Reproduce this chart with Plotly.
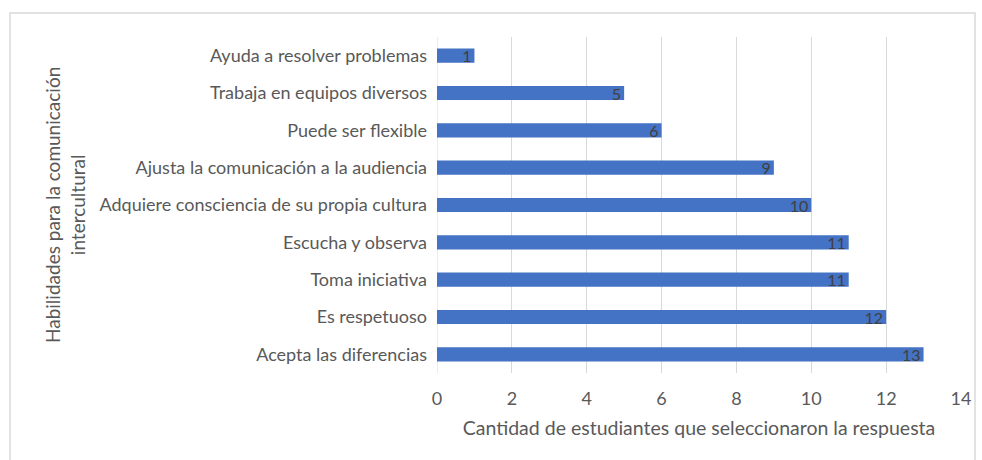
import plotly.graph_objects as go

# Skills and how many students picked each one
habilidades = [
    "Acepta las diferencias",
    "Es respetuoso",
    "Toma iniciativa",
    "Escucha y observa",
    "Adquiere consciencia de su propia cultura",
    "Ajusta la comunicación a la audiencia",
    "Puede ser flexible",
    "Trabaja en equipos diversos",
    "Ayuda a resolver problemas",
]
estudiantes = [13, 12, 11, 11, 10, 9, 6, 5, 1]
x_ticks = [0, 2, 4, 6, 8, 10, 12, 14]

W, H = 982, 460
L, R, T, B = 437, 21, 37, 87
pw, ph = W - L - R, H - T - B


def px_x(px):
    return (px - L) / pw


def px_y(py):
    return (H - B - py) / ph


font_family = "Lato, Open Sans, sans-serif"
gray = "#595959"

fig = go.Figure(
    go.Bar(
        x=estudiantes,
        y=habilidades,
        orientation="h",
        marker=dict(color="#4472C4", line=dict(width=0)),
        text=estudiantes,
        textposition="inside",
        insidetextanchor="end",
        textangle=0,
        constraintext="none",
        textfont=dict(color="#404040", size=16, family=font_family),
        cliponaxis=False,
    )
)

fig.update_layout(
    width=W,
    height=H,
    margin=dict(l=L, r=R, t=T, b=B),
    paper_bgcolor="white",
    plot_bgcolor="white",
    bargap=0.62,
    showlegend=False,
    uniformtext=dict(mode=False),
    font=dict(family=font_family, color=gray, size=18),
    xaxis=dict(
        range=[0, 14],
        tickvals=x_ticks,
        showgrid=True,
        gridcolor="#d9d9d9",
        gridwidth=1,
        zeroline=False,
        showline=False,
        ticks="",
        ticklabelstandoff=13,
        tickfont=dict(size=18, color=gray),
        title=dict(
            text="Cantidad de estudiantes que seleccionaron la respuesta",
            font=dict(size=19.5, color=gray),
            standoff=13,
        ),
        fixedrange=True,
    ),
    yaxis=dict(
        categoryorder="array",
        categoryarray=habilidades,
        showgrid=False,
        zeroline=False,
        showline=False,
        ticks="",
        ticklabelstandoff=9,
        tickfont=dict(size=18, color=gray),
        fixedrange=True,
    ),
    shapes=[
        dict(
            type="rect",
            xref="paper",
            yref="paper",
            x0=px_x(10),
            x1=px_x(975),
            y0=px_y(475),
            y1=px_y(13),
            line=dict(color="#d9d9d9", width=1.5),
            fillcolor="rgba(0,0,0,0)",
            layer="below",
        ),
        dict(
            type="line",
            xref="x",
            yref="paper",
            x0=0,
            x1=0,
            y0=0,
            y1=1,
            line=dict(color="#d9d9d9", width=1),
            layer="below",
        ),
    ],
    annotations=[
        dict(
            text="Habilidades para la comunicación<br>intercultural",
            xref="paper",
            yref="paper",
            x=px_x(65),
            y=px_y(205),
            xanchor="center",
            yanchor="middle",
            textangle=-90,
            showarrow=False,
            font=dict(size=19, color=gray),
            align="center",
        )
    ],
)

fig.write_html("out.html")
